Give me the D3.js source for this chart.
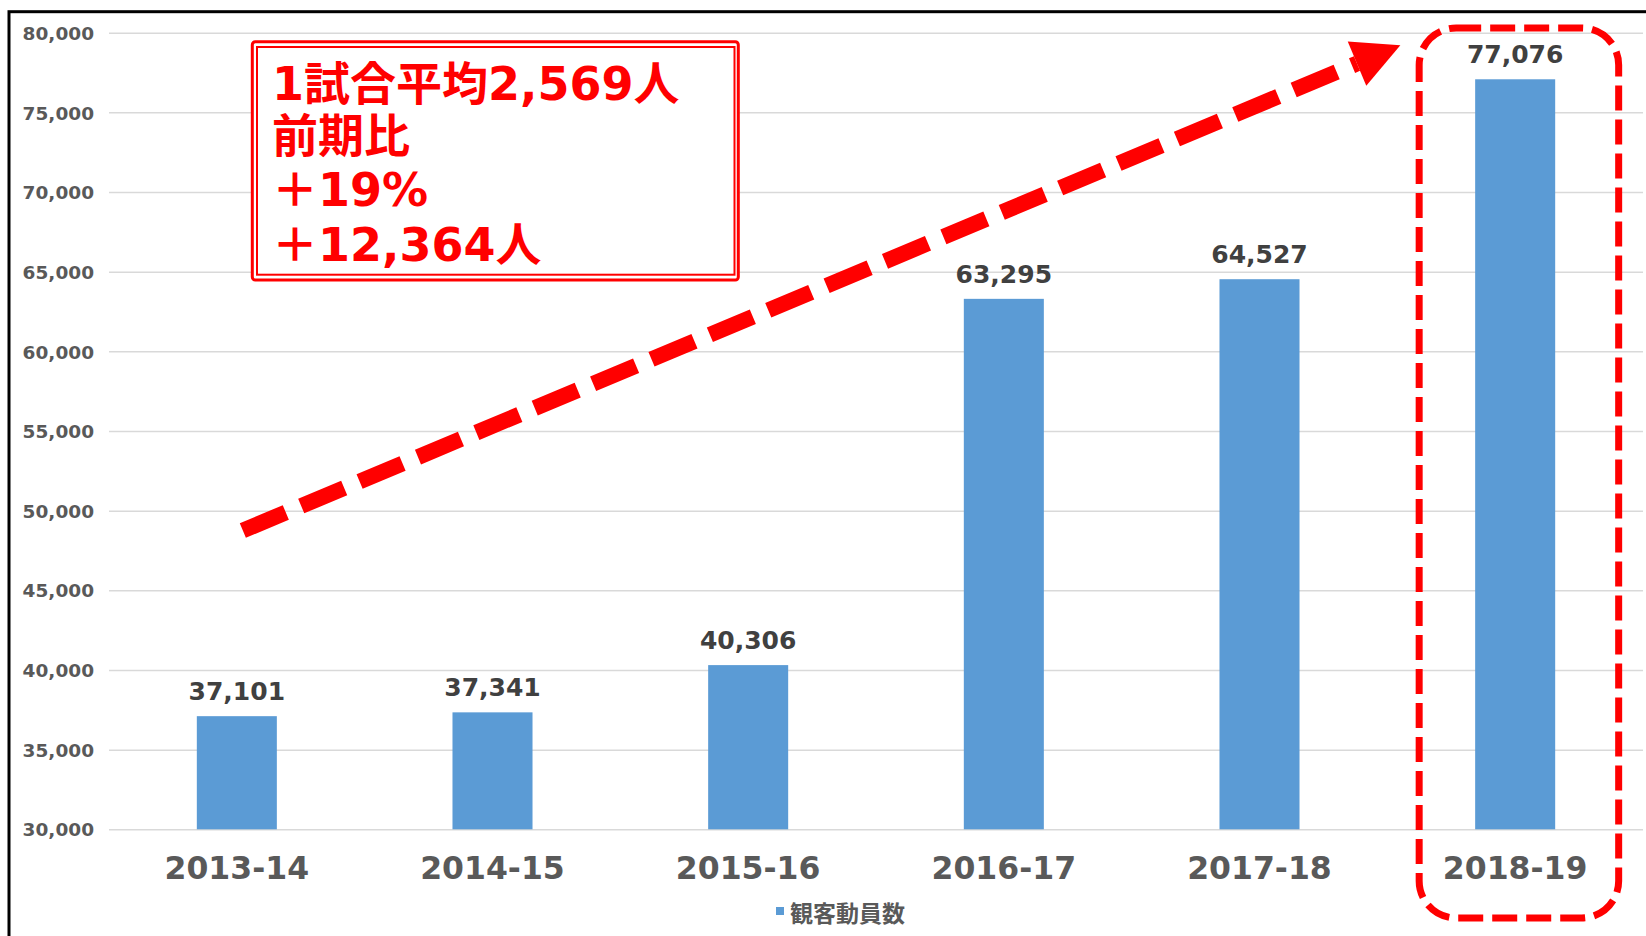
<!DOCTYPE html>
<html><head><meta charset="utf-8">
<script src="https://cdn.jsdelivr.net/npm/d3@7"></script>
<style>body{margin:0;background:#fff;}svg{display:block;}</style>
</head><body>
<svg id="c" width="1646" height="936"></svg>
<script>
const categories = ["2013-14","2014-15","2015-16","2016-17","2017-18","2018-19"];
const values = [37101, 37341, 40306, 63295, 64527, 77076];
const yTicks = [30000,35000,40000,45000,50000,55000,60000,65000,70000,75000,80000];
const seriesName = "観客動員数";
const noteLines = ["1試合平均2,569人","前期比","＋19%","＋12,364人"];
const highlight = "2018-19";

const svg = d3.select("#c");
const plotL = 109, plotR = 1643, plotT = 32.7, plotB = 829.3;
const NUM = "'DejaVu Sans','Noto Sans CJK JP',sans-serif";
const CJK = "'Noto Sans CJK JP','DejaVu Sans',sans-serif";

const x = d3.scaleBand().domain(categories).range([plotL, plotR]).paddingInner(0.687).paddingOuter(0.3435);
const y = d3.scaleLinear().domain([30000, 80000]).range([plotB, plotT]);

// frame
svg.append("rect").attr("x", 9).attr("y", 11.7).attr("width", 2000).attr("height", 2000)
  .attr("fill", "none").attr("stroke", "#000").attr("stroke-width", 3);

// grid
const grid = svg.append("g").attr("transform", `translate(${plotL},0)`)
  .call(d3.axisLeft(y).tickValues(yTicks).tickSize(-(plotR - plotL)).tickFormat(""));
grid.select(".domain").remove();
grid.selectAll("line").attr("stroke", "#d9d9d9").attr("stroke-width", 1.5);

// y labels
const ya = svg.append("g").attr("transform", `translate(94,0)`)
  .call(d3.axisLeft(y).tickValues(yTicks).tickSize(0).tickPadding(0).tickFormat(d3.format(",")));
ya.select(".domain").remove();
ya.selectAll("text").attr("font-family", NUM).attr("font-weight", "bold")
  .attr("font-size", 18.5).attr("fill", "#595959").attr("dy", "0.36em");

// bars
svg.append("g").selectAll("rect").data(values).join("rect")
  .attr("x", (d, i) => x(categories[i]))
  .attr("y", d => y(d))
  .attr("width", x.bandwidth())
  .attr("height", d => plotB - y(d))
  .attr("fill", "#5b9bd5");

// value labels
svg.append("g").selectAll("text").data(values).join("text")
  .attr("x", (d, i) => x(categories[i]) + x.bandwidth() / 2)
  .attr("y", d => y(d) - 16)
  .attr("text-anchor", "middle")
  .attr("font-family", NUM).attr("font-weight", "bold").attr("font-size", 25)
  .attr("fill", "#404040")
  .text(d => d3.format(",")(d));

// x labels
const xa = svg.append("g").attr("transform", `translate(0,${plotB})`)
  .call(d3.axisBottom(x).tickSize(0).tickPadding(0));
xa.select(".domain").remove();
xa.selectAll("text").attr("font-family", NUM).attr("font-weight", "bold")
  .attr("font-size", 31.5).attr("fill", "#595959").attr("dy", null).attr("y", 50);

// legend
svg.append("rect").attr("x", 776).attr("y", 907).attr("width", 8).attr("height", 8).attr("fill", "#5b9bd5");
svg.append("text").attr("x", 790).attr("y", 922).attr("font-family", CJK).attr("font-weight", "bold")
  .attr("font-size", 23).attr("fill", "#595959").text(seriesName);

// dashed arrow (annotation)
const xs = x(categories[0]) + x.bandwidth() / 2 + 6, ys = y(48755);
const xb = 1357, yb = y(78066);
const ang = Math.atan2(yb - ys, xb - xs);
svg.append("line").attr("x1", xs).attr("y1", ys).attr("x2", xb).attr("y2", yb)
  .attr("stroke", "#ff0000").attr("stroke-width", 15.8).attr("stroke-dasharray", "46.6 16.7");
const tipLen = 47, halfW = 24;
const tip = [xb + tipLen * Math.cos(ang), yb + tipLen * Math.sin(ang)];
const p1 = [xb + halfW * Math.sin(ang), yb - halfW * Math.cos(ang)];
const p2 = [xb - halfW * Math.sin(ang), yb + halfW * Math.cos(ang)];
svg.append("polygon").attr("points", [tip, p1, p2].map(p => p.join(",")).join(" ")).attr("fill", "#ff0000");

// dashed highlight box
const hc = x(highlight) + x.bandwidth() / 2;
svg.append("rect").attr("x", hc - 96).attr("y", 28).attr("width", 199.5).attr("height", 890)
  .attr("rx", 37).attr("ry", 37).attr("fill", "none").attr("stroke", "#ff0000")
  .attr("stroke-width", 7).attr("stroke-dasharray", "25 9");

// note box
svg.append("rect").attr("x", 252.3).attr("y", 41.7).attr("width", 486).attr("height", 238.3)
  .attr("rx", 3).attr("fill", "#fff").attr("stroke", "#ff0000").attr("stroke-width", 3);
svg.append("rect").attr("x", 257).attr("y", 47).attr("width", 477.5).attr("height", 227.7)
  .attr("fill", "none").attr("stroke", "#ff0000").attr("stroke-width", 2);
const baselines = [100, 152, 206, 261];
svg.append("g").selectAll("text").data(noteLines).join("text")
  .attr("x", 272).attr("y", (d, i) => baselines[i])
  .attr("font-family", NUM).attr("font-weight", "bold").attr("font-size", 46)
  .attr("fill", "#ff0000").text(d => d);
</script>
</body></html>
